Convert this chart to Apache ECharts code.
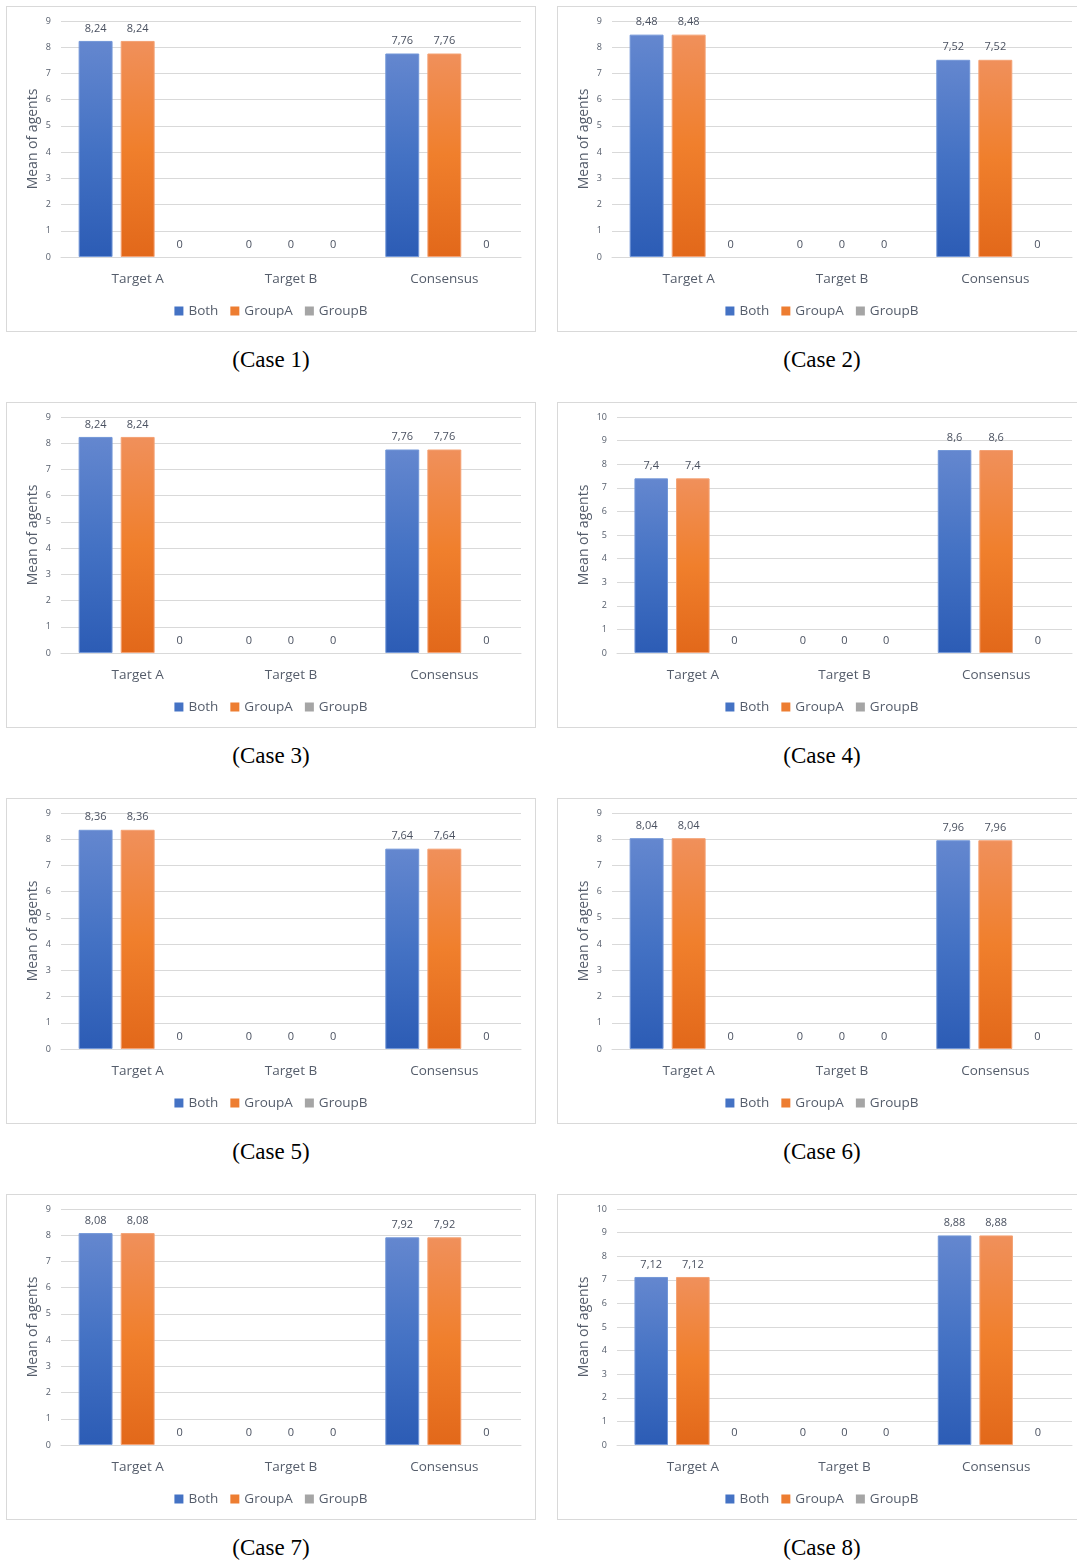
<!DOCTYPE html>
<html>
<head>
<meta charset="utf-8">
<script src="https://cdn.jsdelivr.net/npm/echarts@6/dist/echarts.min.js"></script>
<style>
    body { margin: 0; background: #fff; }
    #page { position: relative; width: 1077px; height: 1564px; overflow: hidden; }
    .panel { position: absolute; width: 530px; height: 326px; border: 1px solid #d9d9d9; box-sizing: border-box; }
    .panel .chart { width: 528px; height: 324px; }
    .caption { position: absolute; width: 530px; text-align: center; font-family: 'Liberation Serif', serif; font-size: 23px; color: #000; }
</style>
</head>
<body>
<div id="page"></div>
<script>
// data
var categories = ['Target A', 'Target B', 'Consensus'];
var seriesNames = ['Both', 'GroupA', 'GroupB'];
var caseNames = ['(Case 1)', '(Case 2)', '(Case 3)', '(Case 4)', '(Case 5)', '(Case 6)', '(Case 7)', '(Case 8)'];
var bothValues = [
    [8.24, 0, 7.76],
    [8.48, 0, 7.52],
    [8.24, 0, 7.76],
    [7.4, 0, 8.6],
    [8.36, 0, 7.64],
    [8.04, 0, 7.96],
    [8.08, 0, 7.92],
    [7.12, 0, 8.88]
];
var groupAValues = [
    [8.24, 0, 7.76],
    [8.48, 0, 7.52],
    [8.24, 0, 7.76],
    [7.4, 0, 8.6],
    [8.36, 0, 7.64],
    [8.04, 0, 7.96],
    [8.08, 0, 7.92],
    [7.12, 0, 8.88]
];
var groupBValues = [
    [0, 0, 0], [0, 0, 0], [0, 0, 0], [0, 0, 0],
    [0, 0, 0], [0, 0, 0], [0, 0, 0], [0, 0, 0]
];
var yMax = [9, 9, 9, 10, 9, 9, 9, 10];

// styles
var textColor = '#555d6b';
var font = "'Open Sans', sans-serif";
var solidColors = ['#4472c4', '#ed7d31', '#a5a5a5'];
var gradients = [
    ['#6487cf', '#4472c4', '#2c5cb5'],
    ['#f0905b', '#f07f2c', '#e2681a'],
    ['#b8b8b8', '#a5a5a5', '#8f8f8f']
];
var borders = ['#7397d8', '#f4a274', '#bdbdbd'];

function fmt(p) {
    return String(p.value).replace('.', ',');
}

function makeSeries(idx, data) {
    var g = gradients[idx];
    return {
        name: seriesNames[idx],
        type: 'bar',
        barGap: '24%',
        barCategoryGap: '23%',
        data: data.map(function (v) {
            // zero bars have no visible outline
            return v === 0 ? { value: v, itemStyle: { borderWidth: 0 } } : v;
        }),
        itemStyle: {
            color: new echarts.graphic.LinearGradient(0, 0, 0, 1, [
                { offset: 0, color: g[0] },
                { offset: 0.5, color: g[1] },
                { offset: 1, color: g[2] }
            ]),
            borderColor: borders[idx],
            borderWidth: 1
        },
        label: {
            show: true,
            position: 'top',
            distance: 7,
            formatter: fmt,
            color: '#4a5160',
            fontFamily: font,
            fontSize: 11
        }
    };
}

function drawPanel(i) {
    var page = document.getElementById('page');
    var col = i % 2, row = Math.floor(i / 2);
    var boxLeft = col === 0 ? 6 : 557;
    var boxTop = 6 + row * 396;
    // wider tick labels ("10") push the plot right
    var wide = yMax[i] >= 10;

    var panel = document.createElement('div');
    panel.className = 'panel';
    panel.style.left = boxLeft + 'px';
    panel.style.top = boxTop + 'px';
    var chartDiv = document.createElement('div');
    chartDiv.className = 'chart';
    panel.appendChild(chartDiv);
    page.appendChild(panel);

    var cap = document.createElement('div');
    cap.className = 'caption';
    cap.style.left = boxLeft + 'px';
    cap.style.top = (boxTop + 341) + 'px';
    cap.textContent = caseNames[i];
    page.appendChild(cap);

    var chart = echarts.init(chartDiv);
    chart.setOption({
        animation: false,
        textStyle: { fontFamily: font },
        grid: {
            left: wide ? 59 : 54,
            right: 14,
            top: 14,
            bottom: 74
        },
        legend: {
            top: 292,
            left: 'center',
            itemWidth: 9,
            itemHeight: 9,
            itemGap: 12,
            icon: 'rect',
            textStyle: { color: textColor, fontSize: 13.5, fontFamily: font },
            data: seriesNames.map(function (n, k) {
                return { name: n, itemStyle: { color: solidColors[k], borderWidth: 0 } };
            })
        },
        xAxis: {
            type: 'category',
            data: categories,
            axisLine: { lineStyle: { color: '#d9d9d9' } },
            axisTick: { show: false },
            axisLabel: { color: textColor, fontSize: 13.5, margin: 15, fontFamily: font }
        },
        yAxis: {
            type: 'value',
            min: 0,
            max: yMax[i],
            interval: 1,
            name: 'Mean of agents',
            nameLocation: 'middle',
            nameGap: wide ? 26 : 21,
            nameMoveOverlap: false,
            nameTextStyle: { color: textColor, fontSize: 14, fontFamily: font },
            axisLine: { show: false },
            axisTick: { show: false },
            axisLabel: { color: textColor, fontSize: 9, margin: 10, fontFamily: font },
            splitLine: { lineStyle: { color: '#d9d9d9', width: 1 } }
        },
        series: [
            makeSeries(0, bothValues[i]),
            makeSeries(1, groupAValues[i]),
            makeSeries(2, groupBValues[i])
        ]
    });
}

for (var n = 0; n < 8; n++) {
    drawPanel(n);
}
</script>
</body>
</html>
